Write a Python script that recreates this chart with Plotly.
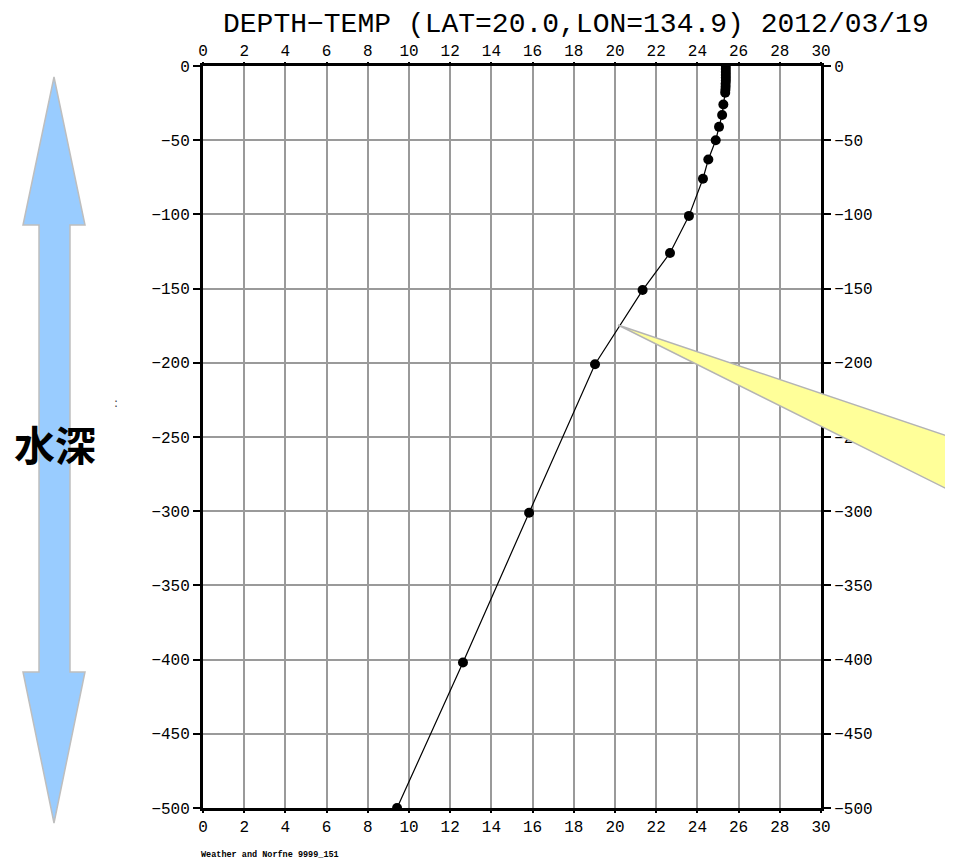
import plotly.graph_objects as go

# ---- data ----
depth = [0, 2, 4, 6, 8, 10, 12, 14, 16, 18, 26, 33, 41, 50, 63, 76, 101, 126, 151, 201, 301, 402, 500]
temp = [25.38, 25.38, 25.38, 25.38, 25.38, 25.38, 25.37, 25.37, 25.36, 25.35, 25.26, 25.2, 25.05,
        24.89, 24.53, 24.27, 23.59, 22.67, 21.34, 19.03, 15.83, 12.62, 9.42]
neg_depth = [-d for d in depth]
title_text = "DEPTH\u2212TEMP (LAT=20.0,LON=134.9) 2012/03/19"
side_label = "水深"
footer_text = "Weather and Norfne 9999_151"

# ---- layout geometry (pixels in the screenshot) ----
OFF = 8  # page body margin
FW, FH = 953, 864
L, R, T, B = 203, 821, 66, 808
PW, PH = R - L, B - T


def px(x):
    return (x - L) / PW


def py(y):
    return (B - y) / PH


def path(points):
    return "M " + " L ".join(f"{px(x):.5f},{py(y):.5f}" for x, y in points) + " Z"


mono = "Liberation Mono, DejaVu Sans Mono, monospace"
tick_font = dict(family=mono, size=16, color="black")

fig = go.Figure()
fig.add_trace(go.Scatter(
    x=temp, y=neg_depth, mode="lines+markers",
    line=dict(color="black", width=1.2),
    marker=dict(color="black", size=10, symbol="circle"),
    cliponaxis=True, showlegend=False, hoverinfo="x+y",
))
# invisible twin for top/right axes
fig.add_trace(go.Scatter(
    x=temp, y=neg_depth, xaxis="x2", yaxis="y2", mode="markers",
    marker=dict(opacity=0), showlegend=False, hoverinfo="skip",
))

axis_common = dict(
    ticks="outside", tickwidth=1.5, tickcolor="black",
    showline=True, linecolor="black", linewidth=3,
    tickfont=tick_font, zeroline=False,
)

fig.update_layout(
    width=FW - OFF, height=FH - OFF,
    margin=dict(l=L - OFF, r=FW - R, t=T - OFF, b=FH - B, pad=0),
    paper_bgcolor="white", plot_bgcolor="white",
    xaxis=dict(range=[0, 30], dtick=2, tick0=0, side="bottom", ticklen=2,
               showgrid=True, gridcolor="#9a9a9a", gridwidth=2, **axis_common),
    yaxis=dict(range=[-500, 0], dtick=50, tick0=0, side="left", ticklen=7,
               showgrid=True, gridcolor="#9a9a9a", gridwidth=2, **axis_common),
    xaxis2=dict(range=[0, 30], dtick=2, tick0=0, side="top", overlaying="x", ticklen=1,
                anchor="y2", matches="x", showgrid=False, **axis_common),
    yaxis2=dict(range=[-500, 0], dtick=50, tick0=0, side="right", overlaying="y", ticklen=7,
                anchor="x2", matches="y", showgrid=False, **axis_common),
    showlegend=False,
)

shapes = []
# blue double-headed arrow on the left
arrow_pts = [(54, 77), (85, 225), (70, 225), (70, 672), (85, 672), (54, 823),
             (23, 672), (39, 672), (39, 225), (23, 225)]
shapes.append(dict(type="path", xref="paper", yref="paper", path=path(arrow_pts),
                   fillcolor="#99CCFF", line=dict(color="#BEBEBE", width=1.5), layer="above"))
# yellow callout wedge
wedge_pts = [(618, 325), (965, 442), (965, 498)]
shapes.append(dict(type="path", xref="paper", yref="paper", path=path(wedge_pts),
                   fillcolor="#FFFF99", line=dict(color="#B4B4B4", width=1.5), layer="above"))
fig.update_layout(shapes=shapes)

annotations = [
    dict(text=title_text, x=px(576), y=py(24), xref="paper", yref="paper",
         xanchor="center", yanchor="middle", showarrow=False,
         font=dict(family=mono, size=28, color="black")),
    dict(text=f"<b>{side_label}</b>", x=px(55), y=py(443), xref="paper", yref="paper",
         xanchor="center", yanchor="middle", showarrow=False,
         font=dict(family="Noto Sans CJK JP", size=41, color="black")),
    dict(text=f"<b>{footer_text}</b>", x=px(199), y=py(855), xref="paper", yref="paper",
         xanchor="left", yanchor="middle", showarrow=False,
         font=dict(family=mono, size=8.5, color="black")),
    dict(text=":", x=px(116), y=py(403), xref="paper", yref="paper",
         xanchor="center", yanchor="middle", showarrow=False,
         font=dict(family="DejaVu Sans", size=12, color="#444")),
]
fig.update_layout(annotations=annotations)

fig.write_html("out.html")
